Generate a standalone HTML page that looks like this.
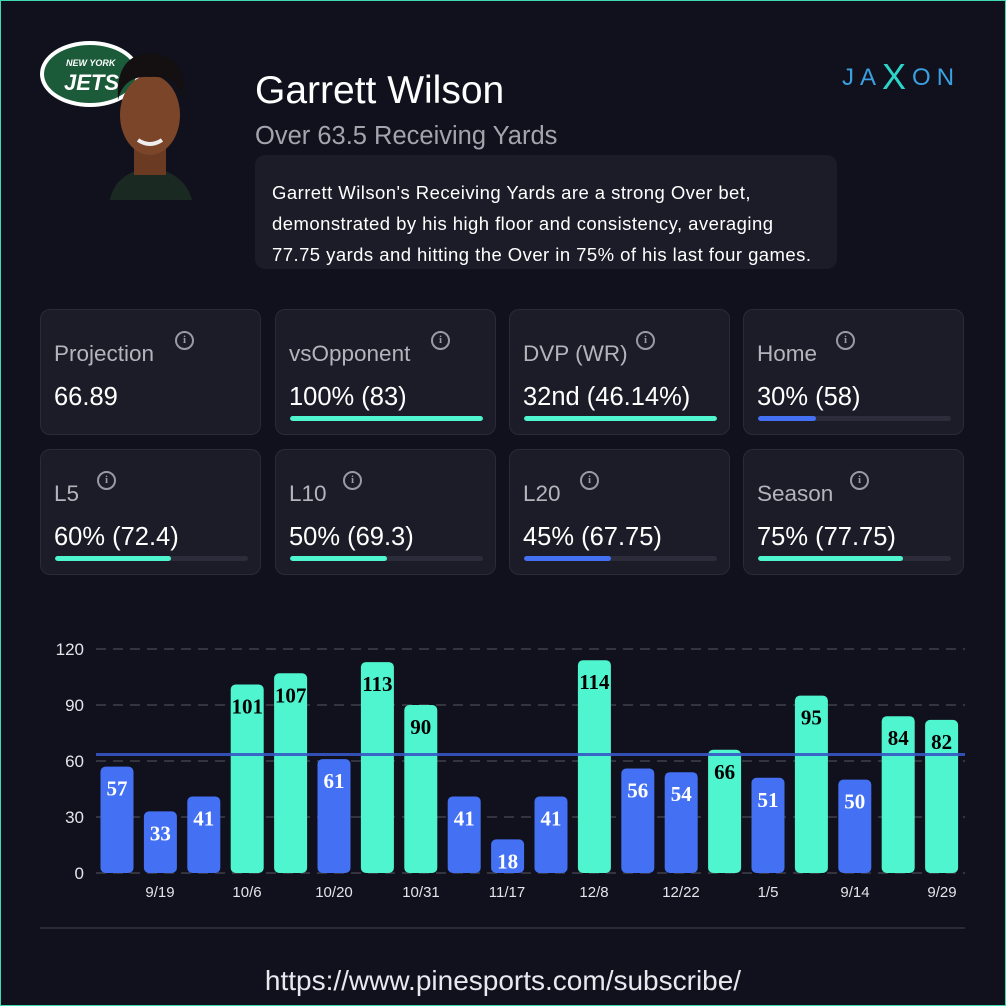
<!DOCTYPE html>
<html><head><meta charset="utf-8"><style>
*{margin:0;padding:0;box-sizing:border-box}
body{width:1006px;height:1006px;background:#10111d;font-family:"Liberation Sans",sans-serif;position:relative;overflow:hidden;color:#fff}
.frame{position:absolute;left:0;top:0;width:1006px;height:1006px;border:1px solid #3fd9b4}
.abs{position:absolute}
.card{position:absolute;width:221px;height:126px;background:#1c1c28;border:1px solid #2a2a38;border-radius:10px}
.card .t{position:absolute;left:13px;top:31px;font-size:22.5px;color:#b4b4bc}
.card .v{position:absolute;left:13px;top:73px;font-size:25.5px;color:#fff}
.card .i{position:absolute;top:21px;width:19px;height:19px;border:2px solid #9a9aa4;border-radius:50%;font-size:11px;font-weight:bold;color:#9a9aa4;text-align:center;line-height:15px;font-family:"Liberation Serif",serif}
.card .bar{position:absolute;left:14px;top:106px;width:193px;height:5px;background:#2c2c3a;border-radius:3px;overflow:hidden}
.card .bar div{height:100%;border-radius:3px}
.desc div{white-space:nowrap;height:31px}
</style></head><body>
<div class="frame"></div>
<svg class="abs" style="left:38px;top:38px" width="110" height="72">
<ellipse cx="52" cy="36" rx="50" ry="33" fill="#fff"/>
<ellipse cx="52" cy="36" rx="46" ry="29" fill="#1b5b3a"/>
<text x="28" y="28" font-size="9" font-weight="bold" font-style="italic" fill="#fff" font-family="Liberation Sans">NEW YORK</text>
<text x="26" y="52" font-size="22" font-weight="bold" font-style="italic" fill="#fff" font-family="Liberation Sans">JETS</text>
</svg>
<svg class="abs" style="left:100px;top:45px" width="100" height="155">
<path d="M10 155 Q15 128 50 122 Q85 128 92 155Z" fill="#1a2a22"/>
<rect x="34" y="95" width="32" height="35" fill="#6a3a22"/>
<ellipse cx="50" cy="70" rx="30" ry="40" fill="#7a4529"/>
<path d="M18 55 Q15 10 50 8 Q88 10 84 55 Q78 30 50 32 Q24 30 18 55Z" fill="#141012"/>
<path d="M38 95 Q50 103 62 95" stroke="#eee" stroke-width="4" fill="none"/>
</svg>
<div class="abs" style="left:255px;top:69px;font-size:39px;color:#fff">Garrett Wilson</div>
<div class="abs" style="left:255px;top:122px;font-size:25.5px;color:#a4a4ac">Over 63.5 Receiving Yards</div>
<div class="abs desc" style="left:255px;top:155px;width:582px;height:114px;background:#1c1c28;border-radius:10px;padding:22px 17px;font-size:18.5px;line-height:31px;color:#fff;letter-spacing:0.45px">
<div>Garrett Wilson's Receiving Yards are a strong Over bet,</div>
<div>demonstrated by his high floor and consistency, averaging</div>
<div>77.75 yards and hitting the Over in 75% of his last four games.</div>
</div>
<div class="abs" style="left:842px;top:52px;font-size:24px;color:#3aa0e0;letter-spacing:6px">JA<span style="color:#2bd7c8;font-size:36px;position:relative;top:4px">X</span>ON</div>

<div class="card" style="left:40px;top:309px"><div class="t">Projection</div><div class="i" style="left:134px">i</div><div class="v">66.89</div></div>
<div class="card" style="left:275px;top:309px"><div class="t">vsOpponent</div><div class="i" style="left:155px">i</div><div class="v">100% (83)</div><div class="bar"><div style="width:100%;background:#4ef5cf"></div></div></div>
<div class="card" style="left:509px;top:309px"><div class="t">DVP (WR)</div><div class="i" style="left:126px">i</div><div class="v">32nd (46.14%)</div><div class="bar"><div style="width:100%;background:#4ef5cf"></div></div></div>
<div class="card" style="left:743px;top:309px"><div class="t">Home</div><div class="i" style="left:92px">i</div><div class="v">30% (58)</div><div class="bar"><div style="width:30%;background:#4470f4"></div></div></div>
<div class="card" style="left:40px;top:449px"><div class="t">L5</div><div class="i" style="left:56px">i</div><div class="v">60% (72.4)</div><div class="bar"><div style="width:60%;background:#4ef5cf"></div></div></div>
<div class="card" style="left:275px;top:449px"><div class="t">L10</div><div class="i" style="left:67px">i</div><div class="v">50% (69.3)</div><div class="bar"><div style="width:50%;background:#4ef5cf"></div></div></div>
<div class="card" style="left:509px;top:449px"><div class="t">L20</div><div class="i" style="left:70px">i</div><div class="v">45% (67.75)</div><div class="bar"><div style="width:45%;background:#4470f4"></div></div></div>
<div class="card" style="left:743px;top:449px"><div class="t">Season</div><div class="i" style="left:106px">i</div><div class="v">75% (77.75)</div><div class="bar"><div style="width:75%;background:#4ef5cf"></div></div></div>

<svg class="abs" style="left:0;top:0" width="1006" height="1006" font-family="Liberation Sans">
<g stroke="#34343f" stroke-width="2" stroke-dasharray="10,7">
<line x1="96" x2="965" y1="649" y2="649"/><line x1="96" x2="965" y1="705" y2="705"/><line x1="96" x2="965" y1="761" y2="761"/><line x1="96" x2="965" y1="817" y2="817"/><line x1="96" x2="965" y1="873" y2="873"/>
</g>
<g fill="#e4e4ea" font-size="17" text-anchor="end">
<text x="84" y="655">120</text><text x="84" y="711">90</text><text x="84" y="767">60</text><text x="84" y="823">30</text><text x="84" y="879">0</text>
</g>
<g id="bars"></g>
<line x1="96" x2="965" y1="754.5" y2="754.5" stroke="#3656c6" stroke-width="3" opacity="0.9"/>
<g fill="#e4e4ea" font-size="15" text-anchor="middle">
<text x="160" y="897">9/19</text><text x="247" y="897">10/6</text><text x="334" y="897">10/20</text><text x="421" y="897">10/31</text><text x="507" y="897">11/17</text><text x="594" y="897">12/8</text><text x="681" y="897">12/22</text><text x="768" y="897">1/5</text><text x="855" y="897">9/14</text><text x="942" y="897">9/29</text>
</g>
<line x1="40" x2="965" y1="928" y2="928" stroke="#2a2a36" stroke-width="2"/>
<text x="503" y="990" fill="#e8e8ee" font-size="28" text-anchor="middle">https://www.pinesports.com/subscribe/</text>
</svg>
<script>
var v=[57,33,41,101,107,61,113,90,41,18,41,114,56,54,66,51,95,50,84,82],g=document.getElementById('bars'),s='';
v.forEach(function(d,i){var cx=117+i*43.4,h=d*1.8667,y=873-h,gr=d>63.5;
s+='<rect x="'+(cx-16.5)+'" y="'+y+'" width="33" height="'+h+'" rx="5" fill="'+(gr?'#4ef5cf':'#4470f4')+'"/>';
s+='<text x="'+cx+'" y="'+(y+29)+'" text-anchor="middle" font-family="Liberation Serif" font-weight="bold" font-size="21" fill="'+(gr?'#000':'#fff')+'">'+d+'</text>';});
g.innerHTML=s;
</script>
</body></html>
